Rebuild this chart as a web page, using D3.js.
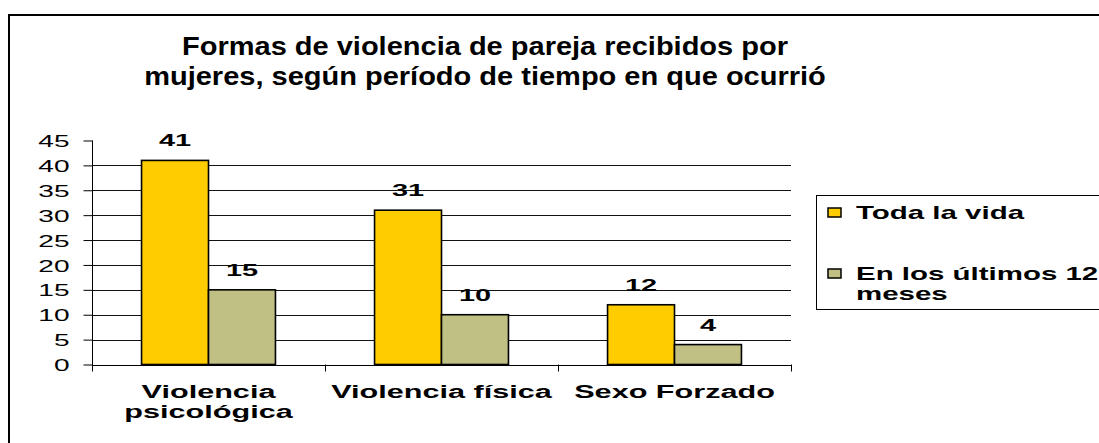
<!DOCTYPE html>
<html>
<head>
<meta charset="utf-8">
<script src="https://cdn.jsdelivr.net/npm/d3@7"></script>
<style>
  body { margin: 0; background: #fff; }
  text { font-family: "Liberation Sans", Arial, sans-serif; fill: #000; }
</style>
</head>
<body>
<script>
// chart data
var categories = ["Violencia psicológica", "Violencia física", "Sexo Forzado"];
var categoryLines = [["Violencia", "psicológica"], ["Violencia física"], ["Sexo Forzado"]];
var seriesNames = ["Toda la vida", "En los últimos 12 meses"];
var legendLines = [["Toda la vida"], ["En los últimos 12", "meses"]];
var todaLaVida = [41, 31, 12];
var ultimos12 = [15, 10, 4];
var yTicks = [0, 5, 10, 15, 20, 25, 30, 35, 40, 45];
var titleLines = ["Formas de violencia de pareja recibidos por",
                  "mujeres, según período de tiempo en que ocurrió"];

var colors = ["#FFCC00", "#C0C084"];

var width = 1099,
    height = 443;

var svg = d3.select("body")
    .append("svg")
    .attr("width", width)
    .attr("height", height);

//stretch a text horizontally like the original picture
function stretch(sel, k) {
    sel.each(function() {
        var w = this.getComputedTextLength();
        d3.select(this)
            .attr("textLength", w * k)
            .attr("lengthAdjust", "spacingAndGlyphs");
    });
}

//outer frame (only top and left visible)
svg.append("path")
    .attr("d", "M9,443V15H1099")
    .attr("fill", "none")
    .attr("stroke", "#000")
    .attr("stroke-width", 2);

//title
svg.selectAll(".title")
    .data(titleLines)
    .enter()
    .append("text")
    .attr("class", "title")
    .attr("x", 485)
    .attr("y", function(d, i) { return 55 + i * 30; })
    .attr("text-anchor", "middle")
    .style("font-size", "25px")
    .style("font-weight", "bold")
    .text(function(d) { return d; })
    .call(stretch, 1.16);

//scales
var x0 = d3.scaleBand()
    .domain(categories)
    .range([92, 791])
    .paddingInner(0)
    .paddingOuter(0);

var x1 = d3.scaleBand()
    .domain(seriesNames)
    .range([0, x0.bandwidth()])
    .paddingOuter(0.74)
    .paddingInner(0);

var y = d3.scaleLinear()
    .domain([0, 45])
    .range([364.5, 140.5]);

//gridlines
svg.append("g")
    .selectAll("line")
    .data(yTicks.filter(function(d) { return d > 0 && d < 45; }))
    .enter()
    .append("line")
    .attr("x1", 92)
    .attr("x2", 791)
    .attr("y1", function(d) { return Math.round(y(d)) + 0.5; })
    .attr("y2", function(d) { return Math.round(y(d)) + 0.5; })
    .attr("stroke", "#111")
    .attr("stroke-width", 1);

//y axis
var yAxis = svg.append("g")
    .attr("transform", "translate(92.5,0)")
    .call(d3.axisLeft(y).tickValues(yTicks).tickSize(9).tickPadding(14));
yAxis.select(".domain").attr("d", "M0,140.5V371");
yAxis.selectAll("line").attr("stroke", "#000");
yAxis.selectAll("text")
    .style("font-size", "17px")
    .style("font-family", "'Liberation Sans', Arial, sans-serif")
    .attr("dy", "0.36em")
    .call(stretch, 1.65);

//x axis
var xAxis = svg.append("g")
    .attr("transform", "translate(0," + (Math.round(y(0)) + 0.5) + ")")
    .call(d3.axisBottom(x0).tickSize(0).tickFormat(""));
xAxis.select(".domain").attr("d", "M92,0H791").attr("stroke", "#000");

//category separator ticks
svg.append("g")
    .selectAll("line")
    .data(categories.concat(["end"]))
    .enter()
    .append("line")
    .attr("x1", function(d, i) { return Math.round(i < 3 ? x0(d) : x0.range()[1]) + 0.5; })
    .attr("x2", function(d, i) { return Math.round(i < 3 ? x0(d) : x0.range()[1]) + 0.5; })
    .attr("y1", y(0))
    .attr("y2", y(0) + 7)
    .attr("stroke", "#000");

//category labels
var catG = svg.selectAll(".cat")
    .data(categories)
    .enter()
    .append("g")
    .attr("class", "cat")
    .attr("transform", function(d) { return "translate(" + (x0(d) + x0.bandwidth() / 2) + ",0)"; });

catG.selectAll("text")
    .data(function(d, i) { return categoryLines[i]; })
    .enter()
    .append("text")
    .attr("x", 0)
    .attr("y", function(d, i) { return 398 + i * 20; })
    .attr("text-anchor", "middle")
    .style("font-size", "18px")
    .style("font-weight", "bold")
    .text(function(d) { return d; })
    .call(stretch, 1.7);

//bars
var values = [todaLaVida, ultimos12];
var groups = svg.selectAll(".grp")
    .data(categories)
    .enter()
    .append("g")
    .attr("class", "grp")
    .attr("transform", function(d) { return "translate(" + x0(d) + ",0)"; });

groups.selectAll("rect")
    .data(function(d, i) {
        return seriesNames.map(function(s, j) { return { s: s, v: values[j][i], c: colors[j] }; });
    })
    .enter()
    .append("rect")
    .attr("x", function(d) { return x1(d.s); })
    .attr("y", function(d) { return y(d.v); })
    .attr("width", x1.bandwidth())
    .attr("height", function(d) { return y(0) - y(d.v); })
    .attr("fill", function(d) { return d.c; })
    .attr("stroke", "#000")
    .attr("stroke-width", 1.6);

//value labels
groups.selectAll(".val")
    .data(function(d, i) {
        return seriesNames.map(function(s, j) { return { s: s, v: values[j][i] }; });
    })
    .enter()
    .append("text")
    .attr("class", "val")
    .attr("x", function(d) { return x1(d.s) + x1.bandwidth() / 2; })
    .attr("y", function(d) { return y(d.v) - 14; })
    .attr("text-anchor", "middle")
    .style("font-size", "17px")
    .style("font-weight", "bold")
    .text(function(d) { return d.v; })
    .call(stretch, 1.7);

//legend
svg.append("rect")
    .attr("x", 816.5)
    .attr("y", 195.5)
    .attr("width", 300)
    .attr("height", 114)
    .attr("fill", "#fff")
    .attr("stroke", "#000")
    .attr("stroke-width", 1);

var leg = svg.selectAll(".leg")
    .data(seriesNames)
    .enter()
    .append("g")
    .attr("class", "leg")
    .attr("transform", function(d, i) { return "translate(0," + (i * 61) + ")"; });

leg.append("rect")
    .attr("x", 828)
    .attr("y", 208)
    .attr("width", 13)
    .attr("height", 9)
    .attr("fill", function(d, i) { return colors[i]; })
    .attr("stroke", "#000")
    .attr("stroke-width", 1.5);

leg.selectAll("text")
    .data(function(d, i) { return legendLines[i]; })
    .enter()
    .append("text")
    .attr("x", 856)
    .attr("y", function(d, i) { return 219 + i * 20; })
    .style("font-size", "19px")
    .style("font-weight", "bold")
    .text(function(d) { return d; })
    .call(stretch, 1.55);
</script>
</body>
</html>
